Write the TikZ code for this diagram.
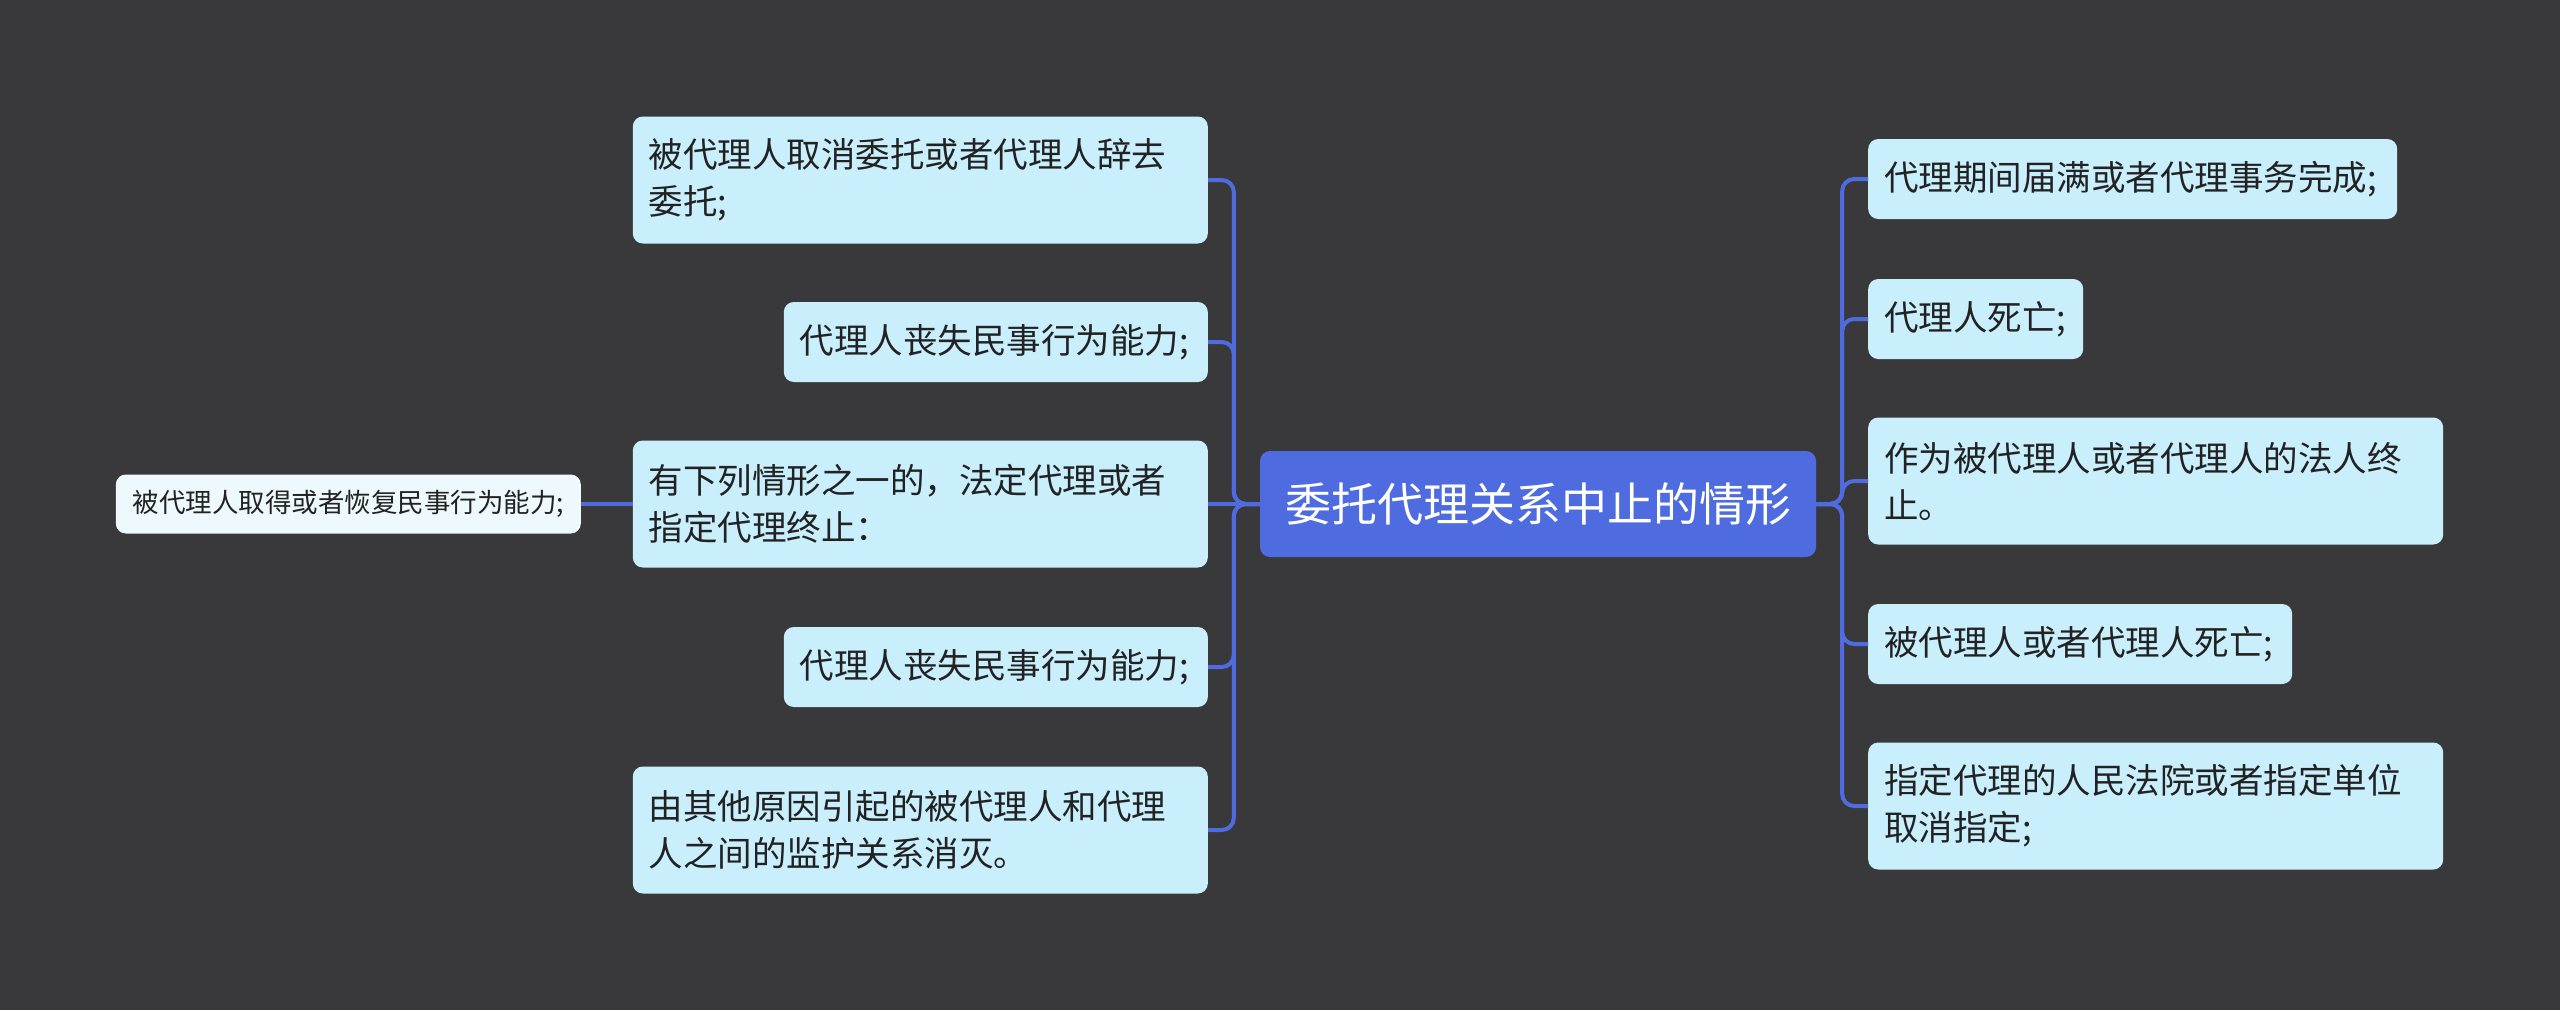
\documentclass[tikz,border=0pt]{standalone}
\usepackage{fontspec}
\newfontfamily\cjk{Noto Sans CJK SC}
\usepackage{tikz}
\usepackage{xcolor}
\definecolor{bgdark}{RGB}{57,56,59}
\definecolor{topicblue}{RGB}{78,108,224}
\definecolor{subcyan}{RGB}{201,238,252}
\definecolor{leafwhite}{RGB}{238,249,253}
\definecolor{textdark}{RGB}{34,34,34}
\tikzset{
    topic-box/.style = {fill=topicblue, text=white, rectangle, rounded corners=10pt, minimum width=556pt, minimum height=106pt, font=\cjk\fontsize{46}{55}\selectfont},
    sub-box/.style = {fill=subcyan, text=textdark, rectangle, rounded corners=10pt, inner xsep=16pt, align=left, font=\cjk\fontsize{34.5}{47}\selectfont},
    sub-box-one/.style = {sub-box, minimum height=80pt},
    sub-box-two/.style = {sub-box, minimum height=127pt},
    leaf-box/.style = {fill=leafwhite, text=textdark, rectangle, rounded corners=10pt, inner xsep=14pt, minimum width=465pt, minimum height=59pt, font=\cjk\fontsize{26.5}{32}\selectfont},
    branch-line/.style = {draw=topicblue, line width=4pt, rounded corners=12pt},
}

\begin{document}
\begin{tikzpicture}[x=1pt,y=-1pt]
\fill[bgdark] (0,0) rectangle (2560,1010);

\node[topic-box] (root) at (1538,504) {委托代理关系中止的情形};

\node[sub-box-two, text width=543pt, anchor=east] (l1) at (1208,180) {被代理人取消委托或者代理人辞去\\委托;};
\node[sub-box-one, text width=392pt, anchor=east] (l2) at (1208,342) {代理人丧失民事行为能力;};
\node[sub-box-two, text width=543pt, anchor=east] (l3) at (1208,504) {有下列情形之一的，法定代理或者\\指定代理终止：};
\node[sub-box-one, text width=392pt, anchor=east] (l4) at (1208,667) {代理人丧失民事行为能力;};
\node[sub-box-two, text width=543pt, anchor=east] (l5) at (1208,830) {由其他原因引起的被代理人和代理\\人之间的监护关系消灭。};
\node[leaf-box, anchor=east] (l3a) at (581,504) {被代理人取得或者恢复民事行为能力;};

\node[sub-box-one, text width=497pt, anchor=west] (r1) at (1868,179) {代理期间届满或者代理事务完成;};
\node[sub-box-one, text width=183pt, anchor=west] (r2) at (1868,319) {代理人死亡;};
\node[sub-box-two, text width=543pt, anchor=west] (r3) at (1868,481) {作为被代理人或者代理人的法人终\\止。};
\node[sub-box-one, text width=392pt, anchor=west] (r4) at (1868,644) {被代理人或者代理人死亡;};
\node[sub-box-two, text width=543pt, anchor=west] (r5) at (1868,806) {指定代理的人民法院或者指定单位\\取消指定;};

\foreach \n in {l1,l2,l4,l5}
    \draw[branch-line] (root.west) -- ++(-26,0) |- (\n.east);
\draw[branch-line] (root.west) -- (l3.east);
\foreach \n in {r1,r2,r3,r4,r5}
    \draw[branch-line] (root.east) -- ++(26,0) |- (\n.west);
\draw[branch-line] (l3a.east) -- (l3.west);
\end{tikzpicture}
\end{document}
